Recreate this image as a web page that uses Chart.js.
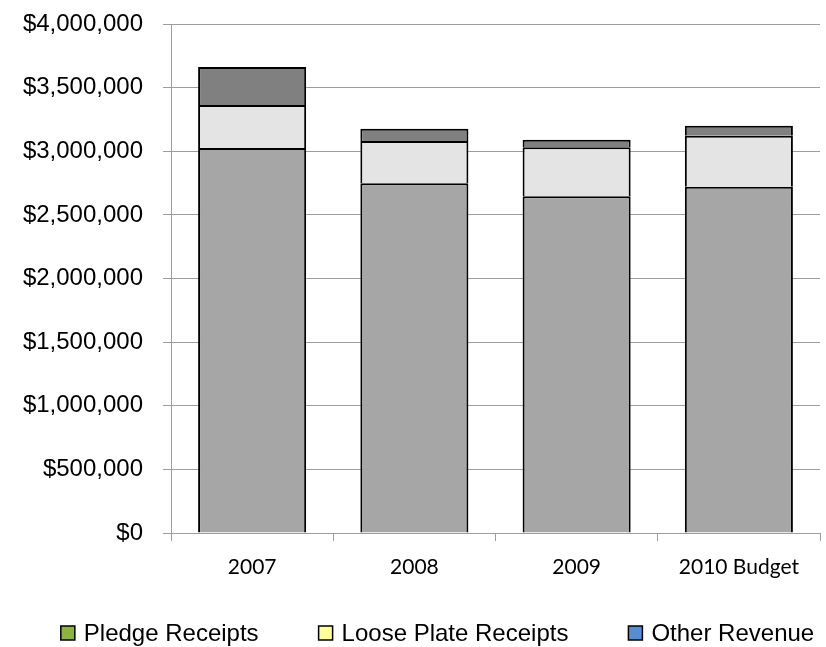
<!DOCTYPE html>
<html>
<head>
<meta charset="utf-8">
<script src="https://cdn.jsdelivr.net/npm/chart.js@4/dist/chart.umd.min.js"></script>
<style>
  html, body { margin: 0; padding: 0; background: #fff; }
  #wrap { width: 826px; height: 647px; }
</style>
</head>
<body>
<div id="wrap"><canvas id="chart"></canvas></div>
<script>
// ── Datos ──────────────────────────────────────────────────────────────────
const years        = ['2007', '2008', '2009', '2010 Budget'];
const pledge       = [3025000, 2748000, 2646000, 2721000];
const loosePlate   = [338000, 333000, 385000, 401000];
const otherRevenue = [300000, 95000, 60000, 79000];

const seriesNames   = ['Pledge Receipts', 'Loose Plate Receipts', 'Other Revenue'];
const barColors     = ['#A6A6A6', '#E4E4E4', '#808080'];
const legendColors  = ['#8DB43F', '#FFFF99', '#558ED5'];

const LEGEND_FONT = '24px "Liberation Sans", Arial, sans-serif';

// ── Utils ──────────────────────────────────────────────────────────────────
const fmtMoney = v => '$' + v.toLocaleString('en-US');

const mkSet = (i, data) => ({
  label:           seriesNames[i],
  data,
  backgroundColor: barColors[i],
  borderColor:     '#000',
  borderWidth:     2,
  categoryPercentage: 1,
  barPercentage:   0.666,
});

// ── Leyenda (estilo Excel: cuadros de color + texto, en una fila) ─────────
const excelLegend = {
  id: 'excelLegend',
  afterDraw(chart) {
    const ctx = chart.ctx;
    const box = 14, gapText = 9, gapItem = 60, cy = 633;
    ctx.save();
    ctx.font = LEGEND_FONT;
    const widths = seriesNames.map(n => ctx.measureText(n).width);
    const total  = widths.reduce((a, w) => a + box + gapText + w, 0) + gapItem * (seriesNames.length - 1);
    let x = 437.5 - total / 2;
    ctx.textBaseline = 'middle';
    seriesNames.forEach((name, i) => {
      ctx.fillStyle = legendColors[i];
      ctx.fillRect(x, cy - box / 2, box, box);
      ctx.lineWidth = 1.5;
      ctx.strokeStyle = '#000';
      ctx.strokeRect(x, cy - box / 2, box, box);
      ctx.fillStyle = '#000';
      ctx.fillText(name, x + box + gapText, cy + 1);
      x += box + gapText + widths[i] + gapItem;
    });
    ctx.restore();
  },
};

// ── Chart ──────────────────────────────────────────────────────────────────
new Chart(document.getElementById('chart'), {
  type: 'bar',
  data: {
    labels: years,
    datasets: [mkSet(0, pledge), mkSet(1, loosePlate), mkSet(2, otherRevenue)],
  },
  plugins: [excelLegend],
  options: {
    responsive: true,
    maintainAspectRatio: false,
    animation: false,
    layout: { padding: { left: 10, right: 6, top: 24, bottom: 54 } },
    plugins: {
      tooltip: { enabled: false },
      legend:  { display: false },
    },
    scales: {
      x: {
        stacked: true,
        afterFit: s => { s.height = 60; s.paddingLeft = 0; s.paddingRight = 0; },
        border: { color: '#9D9D9D', width: 1 },
        grid: { offset: true, drawOnChartArea: false, drawTicks: true, tickLength: 8, color: '#9D9D9D' },
        ticks: {
          color: '#000',
          padding: 14,
          font: { family: 'Lato, "Open Sans", sans-serif', size: 21 },
        },
      },
      y: {
        stacked: true,
        min: 0,
        max: 4000000,
        afterFit: s => { s.width = 161; s.paddingTop = 0; s.paddingBottom = 0; },
        border: { color: '#9D9D9D', width: 1 },
        grid: { color: '#9D9D9D', tickLength: 8 },
        ticks: {
          stepSize: 500000,
          color: '#000',
          padding: 20,
          font: { family: '"Liberation Sans", Arial, sans-serif', size: 24 },
          callback: v => fmtMoney(v),
        },
      },
    },
  },
});
</script>
</body>
</html>
